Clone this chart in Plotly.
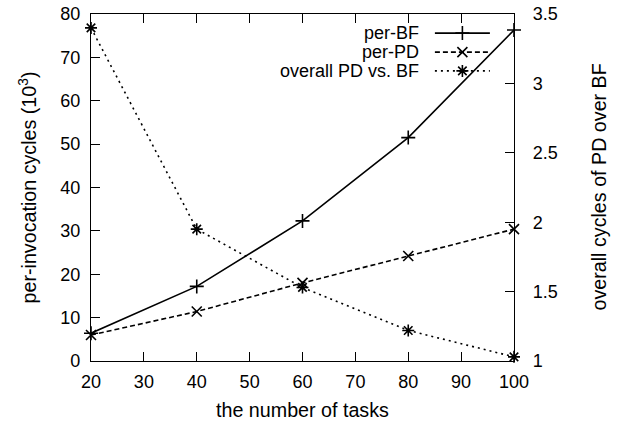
import plotly.graph_objects as go

tasks = [20, 40, 60, 80, 100]
per_bf = [6.4, 17.2, 32.3, 51.5, 76.3]
per_pd = [6.0, 11.4, 18.0, 24.2, 30.4]
overall = [3.40, 1.95, 1.53, 1.22, 1.03]

names = ["per-BF", "per-PD", "overall PD vs. BF"]
dashes = ["solid", "5px,3px", "2px,4px"]
symbols = ["cross-thin-open", "x-thin-open", "asterisk-open"]

FONT = "Liberation Sans, Arial, sans-serif"
FS = 18      # tick labels
FL = 18      # legend
FT = 19.7    # axis titles
fig = go.Figure()

series = [(per_bf, "y"), (per_pd, "y"), (overall, "y2")]
for (vals, ax), dash, sym in zip(series, dashes, symbols):
    fig.add_trace(go.Scatter(
        x=tasks, y=vals, yaxis=ax, mode="lines+markers",
        line=dict(color="black", width=1.6, dash=dash),
        marker=dict(symbol=sym, size=10, color="black", line=dict(color="black", width=1.6)),
        cliponaxis=False, showlegend=False))

# custom legend (gnuplot style: text left, sample right)
leg_y = [0.945, 0.890, 0.836]
for name, dash, sym, ly in zip(names, dashes, symbols, leg_y):
    fig.add_trace(go.Scatter(
        x=[0.813, 0.943], y=[ly, ly], xaxis="x3", yaxis="y3", mode="lines",
        line=dict(color="black", width=1.6, dash=dash), showlegend=False, hoverinfo="skip"))
    fig.add_trace(go.Scatter(
        x=[0.878], y=[ly], xaxis="x3", yaxis="y3", mode="markers",
        marker=dict(symbol=sym, size=10, color="black", line=dict(color="black", width=1.6)),
        showlegend=False, hoverinfo="skip", cliponaxis=False))
    fig.add_annotation(x=0.780, y=ly, xref="paper", yref="paper", text=name,
                       showarrow=False, xanchor="right", yanchor="middle",
                       font=dict(family=FONT, size=FL, color="black"))

# axis titles
tfont = dict(family=FONT, size=FT, color="black")
fig.add_annotation(text="the number of tasks", xref="paper", yref="paper", x=0.5, y=-49/347,
                   yanchor="middle", xanchor="center", showarrow=False, font=tfont)
fig.add_annotation(text="per-invocation cycles (10<sup>3</sup>)", xref="paper", yref="paper",
                   x=-64/423, y=0.5, textangle=-90, xanchor="center", yanchor="middle",
                   showarrow=False, font=tfont)
fig.add_annotation(text="overall cycles of PD over BF", xref="paper", yref="paper",
                   x=1 + 84/423, y=0.5, textangle=-90, xanchor="center", yanchor="middle",
                   showarrow=False, font=tfont)

axis_common = dict(showline=True, linecolor="black", linewidth=1.2, ticks="inside",
                   ticklen=9, tickcolor="black", tickwidth=1.2, showgrid=False, zeroline=False,
                   automargin=False, tickfont=dict(family=FONT, size=FS, color="black"))

fig.update_layout(
    width=619, height=421,
    margin=dict(l=91, r=105, t=14, b=60),
    plot_bgcolor="white", paper_bgcolor="white",
    xaxis=dict(range=[20, 100], dtick=10, tick0=20, mirror="ticks", ticklabelstandoff=4,
               **axis_common),
    yaxis=dict(range=[0, 80], dtick=10, ticklabelstandoff=6, **axis_common),
    yaxis2=dict(range=[1, 3.5], dtick=0.5, tick0=1, overlaying="y", side="right",
                ticklabelstandoff=14, **axis_common),
    xaxis3=dict(range=[0, 1], overlaying="x", visible=False),
    yaxis3=dict(range=[0, 1], overlaying="y", visible=False),
)

fig.write_html("out.html", config={"displayModeBar": False},
               post_script="document.body.style.margin='0';")
